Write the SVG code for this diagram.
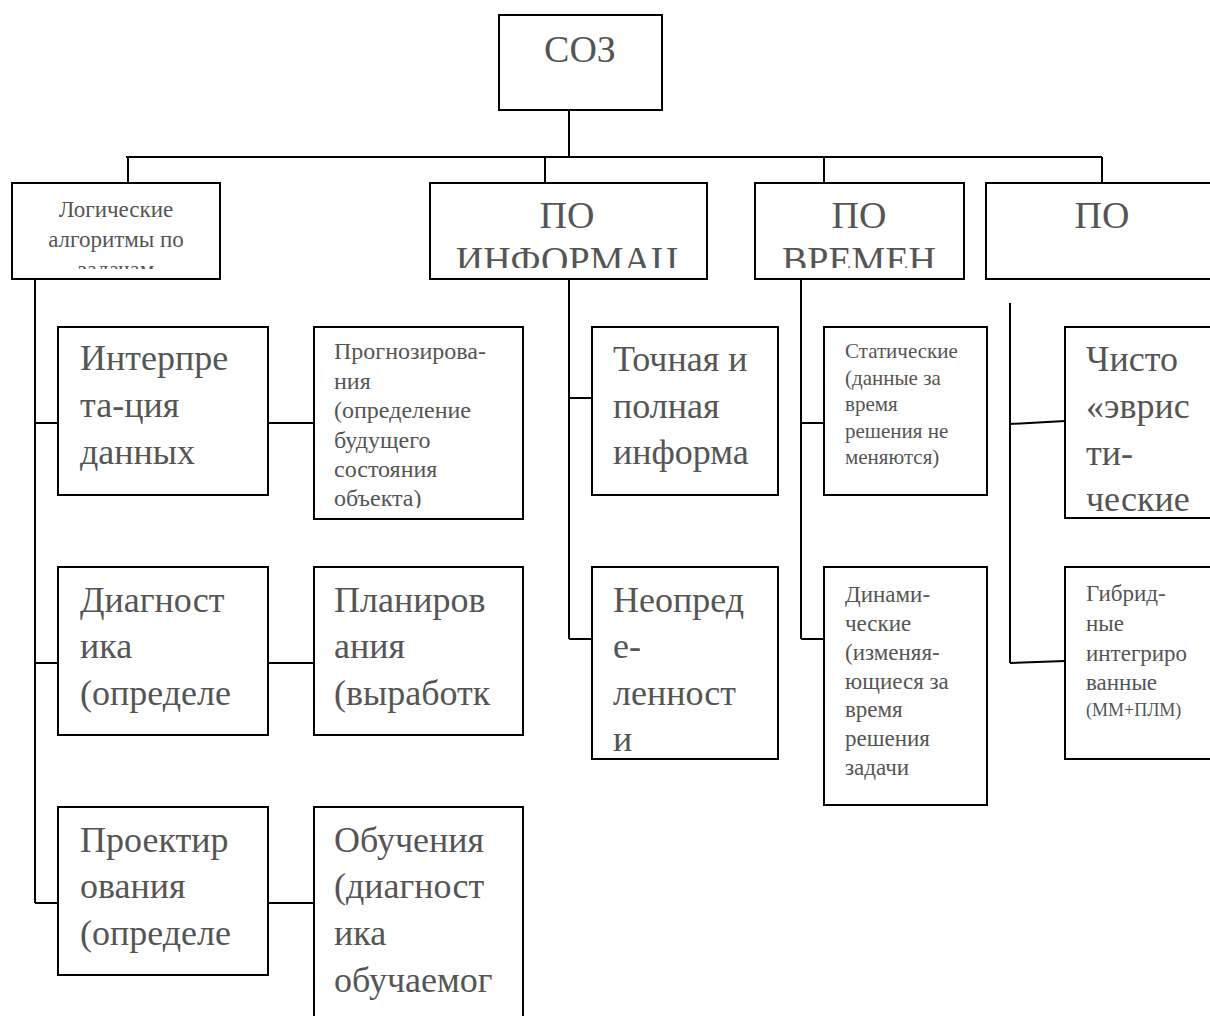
<svg xmlns="http://www.w3.org/2000/svg" width="1210" height="1016" viewBox="0 0 1210 1016">
<style>
.box{fill:#fff;stroke:#000;stroke-width:2}
.ln{stroke:#000;stroke-width:2;fill:none}
.t{font-family:"Liberation Serif","Times New Roman",serif;fill:#555}
.big{font-size:36px}
.hd{font-size:38px}
.sm{font-size:23px}
.pr{font-size:24px}
.xs{font-size:21px}
.c{text-anchor:middle}
</style>
<defs>
<clipPath id="cA"><rect x="13" y="184" width="206" height="85"/></clipPath>
<clipPath id="cB"><rect x="431" y="184" width="275" height="84"/></clipPath>
<clipPath id="cC"><rect x="756" y="184" width="207" height="84"/></clipPath>
<clipPath id="cInt"><rect x="59" y="328" width="208" height="157"/></clipPath>
<clipPath id="cPro"><rect x="315" y="328" width="207" height="180"/></clipPath>
<clipPath id="cDin"><rect x="825" y="568" width="161" height="228"/></clipPath>
<clipPath id="cChi"><rect x="1066" y="328" width="150" height="184"/></clipPath>
<clipPath id="cObu"><rect x="315" y="808" width="207" height="210"/></clipPath>
</defs>
<g id="connectors">
<path class="ln" d="M569,110 V157 M126,157 H1102 M128,157 V183 M545,157 V183 M824,157 V183 M1102,157 V183"/>
<path class="ln" d="M35,279 V903 M35,423 H58 M35,663 H58 M35,903 H58 M268,423 H314 M268,663 H314 M268,903 H314"/>
<path class="ln" d="M569,279 V639 M569,398 H592 M569,639 H592"/>
<path class="ln" d="M801,279 V639 M801,423 H824 M801,639 H824"/>
<path class="ln" d="M1010,303 V663 M1010,424 L1065,421 M1010,663 L1065,661"/>
</g>
<g id="n-soz"><rect class="box" x="499" y="15" width="163" height="95"/><text class="t hd c" x="580" y="62">СОЗ</text></g>
<g id="n-log"><rect class="box" x="12" y="183" width="208" height="96"/>
<g clip-path="url(#cA)"><text class="t sm c" x="116" y="217">Логические</text><text class="t sm c" x="116" y="247">алгоритмы по</text><text class="t sm c" x="116" y="277">задачам</text></g></g>
<g id="n-inf"><rect class="box" x="430" y="183" width="277" height="96"/>
<g clip-path="url(#cB)"><text class="t hd c" x="567" y="228">ПО</text><text class="t hd c" x="567" y="273">ИНФОРМАЦ</text></g></g>
<g id="n-vrem"><rect class="box" x="755" y="183" width="209" height="96"/>
<g clip-path="url(#cC)"><text class="t hd c" x="859" y="228">ПО</text><text class="t hd c" x="859" y="273">ВРЕМЕН</text></g></g>
<g id="n-po"><rect class="box" x="986" y="183" width="230" height="96"/><text class="t hd c" x="1102" y="228">ПО</text></g>
<g id="n-interp"><rect class="box" x="58" y="327" width="210" height="168"/>
<g clip-path="url(#cInt)"><text class="t big" x="80" y="370">Интерпре</text><text class="t big" x="80" y="417">та-ция</text><text class="t big" x="80" y="464">данных</text></g></g>
<g id="n-prog"><rect class="box" x="314" y="327" width="209" height="192"/>
<g clip-path="url(#cPro)" class="t pr"><text x="334" y="359">Прогнозирова-</text><text x="334" y="389">ния</text><text x="334" y="418">(определение</text><text x="334" y="448">будущего</text><text x="334" y="477">состояния</text><text x="334" y="506">объекта)</text></g></g>
<g id="n-diag"><rect class="box" x="58" y="567" width="210" height="168"/>
<text class="t big" x="80" y="612">Диагност</text><text class="t big" x="80" y="658">ика</text><text class="t big" x="80" y="705">(определе</text></g>
<g id="n-plan"><rect class="box" x="314" y="567" width="209" height="168"/>
<text class="t big" x="334" y="612">Планиров</text><text class="t big" x="334" y="658">ания</text><text class="t big" x="334" y="705">(выработк</text></g>
<g id="n-proekt"><rect class="box" x="58" y="807" width="210" height="168"/>
<text class="t big" x="80" y="852">Проектир</text><text class="t big" x="80" y="898">ования</text><text class="t big" x="80" y="945">(определе</text></g>
<g id="n-obuch"><rect class="box" x="314" y="807" width="209" height="215"/>
<g clip-path="url(#cObu)"><text class="t big" x="334" y="852">Обучения</text><text class="t big" x="334" y="898">(диагност</text><text class="t big" x="334" y="945">ика</text><text class="t big" x="334" y="992">обучаемог</text></g></g>
<g id="n-tochn"><rect class="box" x="592" y="327" width="186" height="168"/>
<text class="t big" x="613" y="371">Точная и</text><text class="t big" x="613" y="418">полная</text><text class="t big" x="613" y="464">информа</text></g>
<g id="n-neopr"><rect class="box" x="592" y="567" width="186" height="192"/>
<text class="t big" x="613" y="612">Неопред</text><text class="t big" x="613" y="658">е-</text><text class="t big" x="613" y="705">ленност</text><text class="t big" x="613" y="751">и</text></g>
<g id="n-stat"><rect class="box" x="824" y="327" width="163" height="168"/>
<g class="t xs"><text x="845" y="358">Статические</text><text x="845" y="385">(данные за</text><text x="845" y="411">время</text><text x="845" y="438">решения не</text><text x="845" y="464">меняются)</text></g></g>
<g id="n-dinam"><rect class="box" x="824" y="567" width="163" height="238"/>
<g clip-path="url(#cDin)" class="t sm"><text x="845" y="602">Динами-</text><text x="845" y="631">ческие</text><text x="845" y="660">(изменяя-</text><text x="845" y="689">ющиеся за</text><text x="845" y="717">время</text><text x="845" y="746">решения</text><text x="845" y="775">задачи</text></g></g>
<g id="n-chisto"><rect class="box" x="1065" y="327" width="152" height="191"/>
<g clip-path="url(#cChi)"><text class="t big" x="1086" y="371">Чисто</text><text class="t big" x="1086" y="418">«эврис</text><text class="t big" x="1086" y="465">ти-</text><text class="t big" x="1086" y="511">ческие</text></g></g>
<g id="n-gibr"><rect class="box" x="1065" y="567" width="152" height="192"/>
<g class="t sm"><text x="1086" y="601">Гибрид-</text><text x="1086" y="631">ные</text><text x="1086" y="661">интегриро</text><text x="1086" y="690">ванные</text><text x="1086" y="716" font-size="18">(ММ+ПЛМ)</text></g></g>
</svg>
